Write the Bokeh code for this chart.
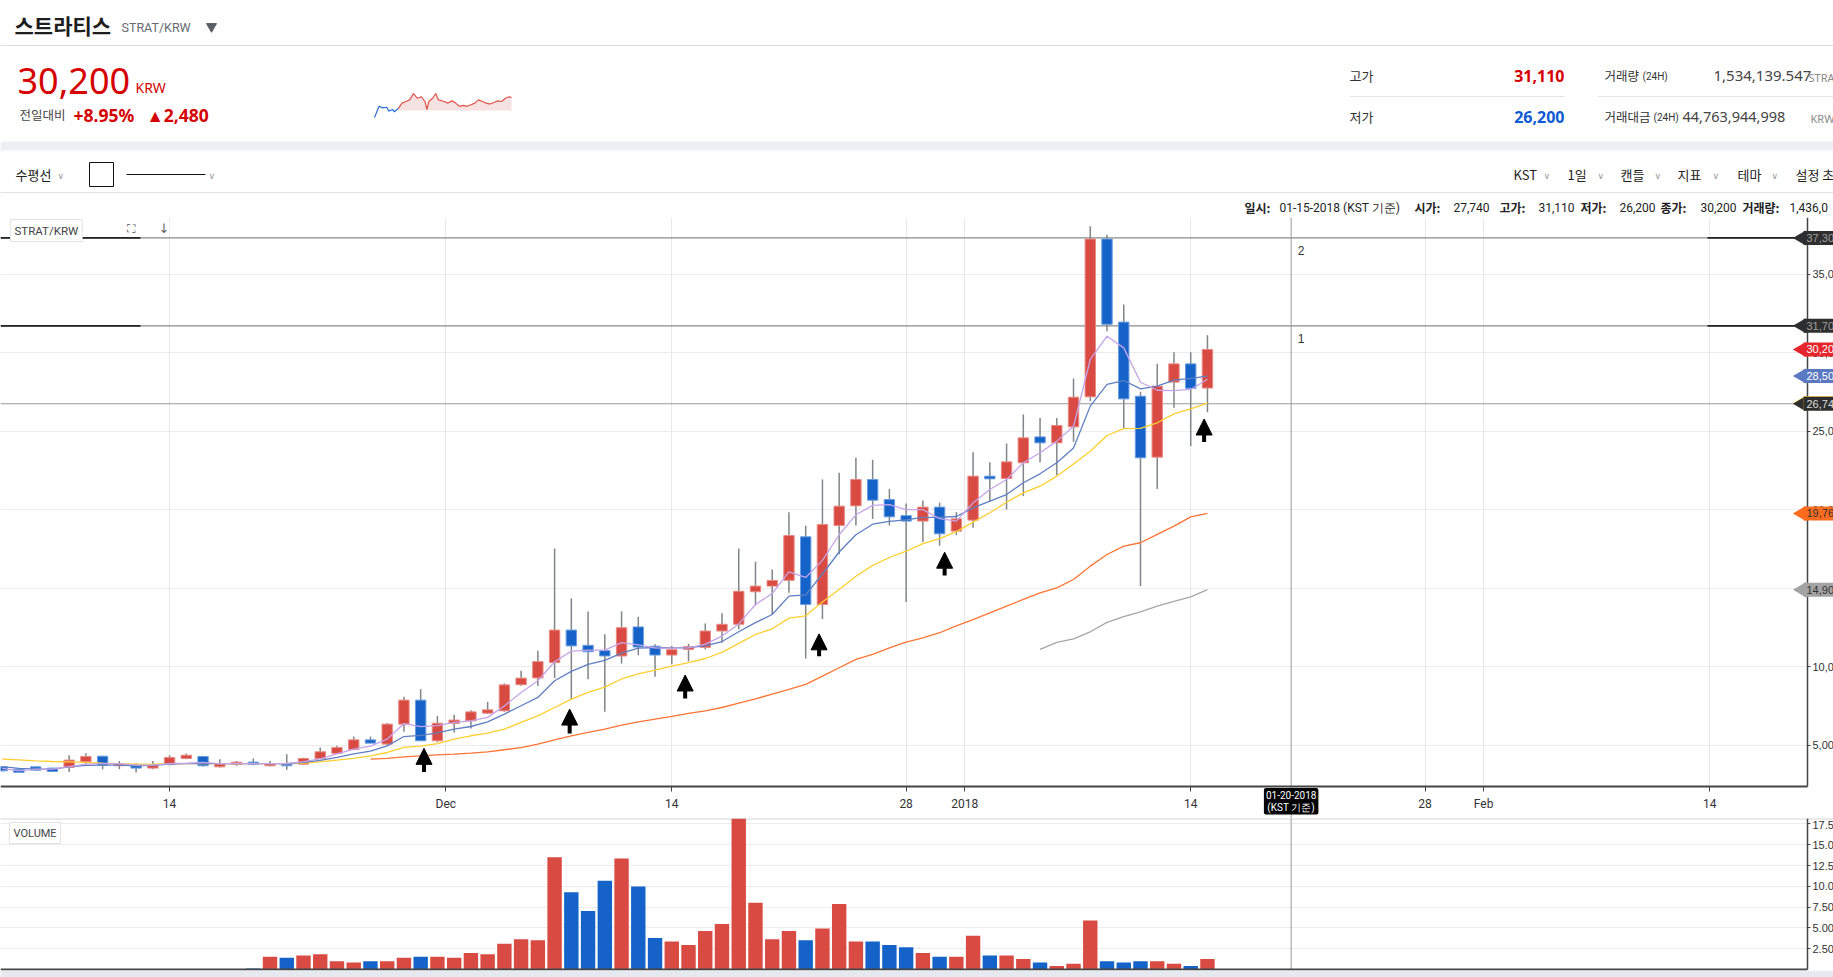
import math
from bokeh.plotting import figure
from bokeh.layouts import column
from bokeh.models import (ColumnDataSource, Range1d, FixedTicker, Label,
                          Arrow, NormalHead, NumeralTickFormatter)
from bokeh.core.properties import value
from bokeh.embed import file_html
from bokeh.resources import INLINE

# ================= DATA =================
coin_name = "스트라티스"
pair_name = "STRAT/KRW"
first_day = 3          # day index of first candle, 0 = 2017-11-01
opens = [3620, 3470, 3620, 3540, 3580, 3940, 4300, 3690, 3730, 3540,
         3770, 4150, 4280, 3620, 3770, 3920, 3690, 3810, 3790, 4150,
         4480, 4720, 5340, 5070, 6340, 7870, 5280, 6380, 6550, 7040,
         7190, 8850, 9280, 10260, 12330, 11360, 11020, 10680, 12530, 11300,
         10740, 11100, 11230, 12270, 12700, 14770, 15130, 15500, 18270, 13960,
         18990, 20240, 21920, 20640, 19620, 19270, 20160, 18630, 19330, 22130,
         21980, 22980, 24630, 24250, 25270, 27180, 37230, 31940, 27220, 23340,
         28120, 29280, 27740]
highs = [3680, 3500, 3650, 3560, 4360, 4490, 4320, 4000, 3850, 4000,
         4360, 4470, 4320, 4110, 4000, 4150, 4000, 4430, 4210, 4850,
         4960, 5550, 5550, 6420, 8080, 8570, 6870, 6940, 7230, 7760,
         8930, 9740, 11020, 17520, 14350, 13520, 12060, 13520, 13180, 11420,
         11320, 11460, 12750, 13400, 17520, 16680, 16190, 19840, 18970, 21920,
         22340, 23300, 23170, 21320, 20390, 20580, 20450, 19840, 23660, 23020,
         24210, 26060, 25840, 25840, 28350, 38050, 37500, 33060, 27500, 29280,
         30020, 30020, 31110]
lows = [3330, 3230, 3400, 3300, 3300, 3790, 3470, 3470, 3260, 3470,
        3730, 4110, 3640, 3580, 3690, 3730, 3640, 3430, 3770, 4110,
        4440, 4680, 5130, 5000, 5850, 5280, 5210, 5810, 6060, 6980,
        7130, 8780, 8770, 9280, 7890, 9200, 7130, 10190, 10720, 9350,
        10150, 10340, 11100, 11530, 12380, 13900, 13320, 14700, 10520, 13030,
        17160, 18990, 19410, 18990, 14110, 17930, 17700, 18370, 18840, 20480,
        20010, 20860, 23020, 22190, 24320, 26900, 31350, 25170, 15130, 21320,
        26480, 24040, 26200]
closes = [3370, 3260, 3410, 3320, 4050, 4280, 3730, 3830, 3540, 3730,
          4220, 4360, 3690, 3810, 3920, 3770, 3830, 3690, 4150, 4580,
          4850, 5340, 5130, 6340, 7870, 5280, 6400, 6600, 7120, 7250,
          8840, 9270, 10320, 12330, 11320, 10950, 10680, 12480, 11250, 10740,
          11080, 11270, 12270, 12700, 14800, 15130, 15490, 18350, 13960, 19050,
          20220, 21920, 20600, 19540, 19270, 20160, 18460, 19410, 22130, 21960,
          23040, 24570, 24250, 25360, 27160, 37230, 31800, 27050, 23300, 27860,
          29280, 27720, 30200]
volume_m = [0, 0, 0, 0, 0, 0, 0, 0, 0, 0, 0, 0, 0, 0, 0,
            0.12, 1.54, 1.40, 1.69, 1.83, 0.98, 0.84, 0.98, 0.98, 1.40,
            1.54, 1.54, 1.40, 1.97, 1.83, 3.09, 3.65, 3.51, 13.48, 9.27,
            7.02, 10.67, 13.34, 9.97, 3.79, 3.37, 2.95, 4.63, 5.48, 19.5,
            8.01, 3.65, 4.63, 3.51, 4.92, 7.87, 3.37, 3.37, 2.95, 2.67,
            1.97, 1.54, 1.54, 4.07, 1.69, 1.69, 1.26, 0.84, 0.42, 0.70,
            5.90, 0.98, 0.84, 0.98, 0.98, 0.70, 0.42, 1.26]
ma5 = [3520, 3370, 3470, 3470, 3640, 3790, 3830, 3830, 3730, 3730,
       3830, 3850, 3900, 3830, 3830, 3830, 3830, 3830, 3950, 4130,
       4440, 4750, 4940, 5380, 6380, 6180, 6240, 6450, 6550, 6770,
       7500, 8350, 9100, 10310, 10990, 11050, 11050, 11530, 11390, 11190,
       11180, 11200, 11440, 11950, 12720, 13960, 14660, 16030, 15680, 16770,
       18400, 19670, 20270, 20320, 20000, 20000, 19420, 19270, 20430, 21280,
       21920, 22980, 23620, 24360, 25310, 29560, 31040, 30300, 28110, 27600,
       27580, 27650, 28300]
ma10 = [3640, 3520, 3470, 3470, 3620, 3710, 3730, 3730, 3690, 3720,
        3790, 3830, 3830, 3830, 3830, 3830, 3830, 3830, 3900, 4030,
        4220, 4450, 4620, 4960, 5550, 5620, 5790, 6020, 6190, 6490,
        6980, 7510, 8040, 9100, 9700, 10150, 10400, 10860, 11180, 11220,
        11200, 11210, 11320, 11600, 12220, 12800, 13320, 14490, 14570, 15900,
        17300, 18400, 19070, 19250, 19350, 19500, 19500, 19560, 20110, 20540,
        20960, 21710, 22280, 22980, 23930, 26590, 27970, 28220, 27690, 27860,
        28240, 28350, 28500]
ma20 = [4110, 4070, 4000, 3960, 3940, 3900, 3850, 3830, 3790, 3790,
        3830, 3830, 3830, 3830, 3830, 3830, 3830, 3830, 3855, 3940,
        4045, 4165, 4320, 4535, 4855, 4940, 5100, 5385, 5600, 5770,
        6020, 6450, 6870, 7400, 7930, 8360, 8700, 9215, 9535, 9780,
        10040, 10255, 10520, 10910, 11480, 12050, 12410, 13090, 13240, 14120,
        14910, 15760, 16450, 16950, 17350, 17830, 18150, 18600, 19200, 19800,
        20470, 21070, 21490, 22130, 22910, 23720, 24720, 25160, 25170, 25530,
        26100, 26420, 26780]
ma60_first_day = 25
ma60 = [4110, 4160, 4260, 4320, 4380, 4430, 4490, 4580, 4710, 4850,
        5070, 5340, 5600, 5810, 6020, 6280, 6490, 6660, 6830, 7020,
        7190, 7400, 7680, 7950, 8250, 8550, 8870, 9400, 9930, 10460,
        10780, 11200, 11560, 11840, 12160, 12600, 13000, 13430, 13850, 14280,
        14700, 15020, 15550, 16400, 17140, 17670, 17890, 18420, 18950, 19540,
        19760]
ma120_first_day = 65
ma120 = [11100, 11550, 11770, 12220, 12820, 13190, 13490, 13860, 14160, 14450, 14900]

x_tick_days = [13, 29.5, 43, 57, 60.5, 74, 88, 91.5, 105]
x_tick_labels = ["14", "Dec", "14", "28", "2018", "14", "28", "Feb", "14"]
price_ticks = [5000, 10000, 15000, 20000, 25000, 30000, 35000]
vol_ticks = [2.5e6, 5e6, 7.5e6, 10e6, 12.5e6, 15e6, 17.5e6]
vol_tick_labels = ["2.50M", "5.00M", "7.50M", "10.00M", "12.50M", "15.00M", "17.50M"]

hline_prices = [37300, 31700]
hline_names = ["2", "1"]
cross_day = 80
cross_price = 26740
cross_date = "01-20-2018\n(KST 기준)"
last_date = "01-15-2018 (KST 기준)"

arrow_days = [28.2, 36.9, 43.8, 51.8, 59.3, 74.8]
arrow_tips = [4800, 7300, 9470, 12090, 17290, 25770]
arrow_tails = [3300, 5750, 7970, 10670, 15800, 24300]

vol_24h = "1,534,139.547"
amount_24h = "44,763,944,998"
info_volume = "1,436,0"

spark_t = [978, 990, 1000, 1010, 1015, 1025, 1030, 1040, 1050, 1060, 1070, 1080, 1090,
           1100, 1110, 1115, 1120, 1130, 1138, 1145, 1160, 1170, 1180, 1190, 1200,
           1210, 1220, 1230, 1240, 1250, 1260, 1270, 1280, 1290, 1300, 1310, 1320,
           1330, 1336]
spark_v = [0, 35, 30, 32, 20, 25, 18, 28, 45, 50, 55, 75, 60,
           65, 50, 25, 50, 60, 75, 55, 50, 45, 52, 45, 35,
           38, 35, 40, 45, 55, 50, 45, 42, 47, 52, 50, 60,
           65, 62]
spark_split = 7

# ================= STYLE / LAYOUT =================
W, H_HDR, H_MAIN, H_VOL = 1833, 215, 603, 159
RED, BLUE = "#d94b42", "#1563c9"
RED_EDGE, BLUE_EDGE = "#e98a84", "#6b9de0"
WICK = "#7f8588"
KR = "Noto Sans CJK KR"
PX_PER_DAY = 16.74


def T(fig, x, y, s, size, color, font=KR, style="normal", align="left", baseline="middle"):
    fig.text(x=[x], y=[y], text=[s], text_font=value(font), text_font_size=value(f"{size}px"),
             text_color=color, text_font_style=style, text_align=align, text_baseline=baseline)


# ---------------- header ----------------
hdr = figure(width=W, height=H_HDR, x_range=Range1d(0, W), y_range=Range1d(H_HDR, 0),
             toolbar_location=None, output_backend="svg", x_axis_type=None, y_axis_type=None,
             min_border=0)
hdr.outline_line_color = None
hdr.grid.visible = False

T(hdr, 14, 24, coin_name, 21, "#1e1e1e", style="bold")
T(hdr, 121, 27, pair_name, 12.5, "#666a70", font="Roboto")
hdr.scatter([211], [26], marker="inverted_triangle", size=10, color="#5b5e66")
hdr.segment([0], [45], [W], [45], line_color="#dcdcdc", line_width=1)

chg = closes[-1] - closes[-2]
pct = chg / closes[-2] * 100
T(hdr, 17, 80, f"{closes[-1]:,}", 36, "#d60000", font="Noto Sans")
T(hdr, 135, 87, "KRW", 14, "#d60000", font="Noto Sans")
T(hdr, 19, 114, "전일대비", 12.5, "#444444")
T(hdr, 73, 114, f"+{pct:.2f}%", 17.5, "#d60000", font="Noto Sans", style="bold")
T(hdr, 146, 114, f"▲{chg:,}", 17.5, "#d60000", font="Noto Sans", style="bold")

# sparkline
sx0, sx1, sy_top, sy_bot = 374, 511, 93, 117
t0, t1 = min(spark_t), max(spark_t)
v0, v1 = min(spark_v), max(spark_v)
kx = (t1 - t0) / (sx1 - sx0)
ky = (v1 - v0) / (sy_bot - sy_top)
hdr.extra_x_ranges = {"st": Range1d(t0 - sx0 * kx, t1 + (W - sx1) * kx)}
hdr.extra_y_ranges = {"sv": Range1d(v0 - (H_HDR - sy_bot) * ky, v1 + sy_top * ky)}
red_t = spark_t[spark_split:]
red_v = spark_v[spark_split:]
hdr.varea(x=red_t, y1=[22] * len(red_t), y2=red_v, x_range_name="st", y_range_name="sv",
          fill_color="#f7e2e2")
hdr.line(spark_t[:spark_split + 1], spark_v[:spark_split + 1], x_range_name="st",
         y_range_name="sv", line_color="#2d6fd8", line_width=1.2)
hdr.line(red_t, red_v, x_range_name="st", y_range_name="sv", line_color="#e0544a", line_width=1.2)

# right stats block
T(hdr, 1349, 75, "고가", 13, "#333333")
T(hdr, 1564, 75, f"{highs[-1]:,}", 16, "#d60000", font="Noto Sans", style="bold", align="right")
hdr.segment([1349, 1597], [96, 96], [1564, W], [96, 96], line_color="#e4e4e4", line_width=1)
T(hdr, 1349, 116, "저가", 13, "#333333")
T(hdr, 1564, 116, f"{lows[-1]:,}", 16, "#0d5ad4", font="Noto Sans", style="bold", align="right")
T(hdr, 1604, 75, "거래량", 12.5, "#333333")
T(hdr, 1642, 76, "(24H)", 10, "#333333", font="Roboto")
T(hdr, 1713, 75, vol_24h, 15, "#444444", font="Noto Sans")
T(hdr, 1808, 77, "STRAT", 11, "#8a8a8a", font="Noto Sans")
T(hdr, 1604, 116, "거래대금", 12.5, "#333333")
T(hdr, 1653, 117, "(24H)", 10, "#333333", font="Roboto")
T(hdr, 1682, 116, amount_24h, 14.5, "#444444", font="Noto Sans")
T(hdr, 1810, 118, "KRW", 11, "#8a8a8a", font="Noto Sans")

hdr.quad(left=[0], right=[W], top=[141], bottom=[150], fill_color="#eceff4", line_color=None)

# toolbar row
T(hdr, 15, 174, "수평선", 13, "#222222")
T(hdr, 57, 175, "∨", 9, "#9a9a9a", font="DejaVu Sans")
hdr.quad(left=[89], right=[113], top=[162], bottom=[186], fill_color=None, line_color="#111111",
         line_width=1)
hdr.segment([126], [174], [205], [174], line_color="#111111", line_width=1.2)
T(hdr, 208, 175, "∨", 9, "#9a9a9a", font="DejaVu Sans")
for label, lx, cx in [("KST", 1513, 1543), ("1일", 1567, 1597), ("캔들", 1620, 1654),
                      ("지표", 1677, 1712), ("테마", 1737, 1771)]:
    T(hdr, lx, 174, label, 13, "#222222")
    T(hdr, cx, 175, "∨", 9, "#9a9a9a", font="DejaVu Sans")
T(hdr, 1795, 174, "설정 초기화", 13, "#222222")
hdr.segment([0], [192], [W], [192], line_color="#e2e2e2", line_width=1)

# info line
info = [("일시:", 1244, True), (last_date, 1279, False),
        ("시가:", 1414, True), (f"{opens[-1]:,}", 1453, False),
        ("고가:", 1499, True), (f"{highs[-1]:,}", 1538, False),
        ("저가:", 1580, True), (f"{lows[-1]:,}", 1619, False),
        ("종가:", 1660, True), (f"{closes[-1]:,}", 1700, False),
        ("거래량:", 1742, True), (info_volume, 1789, False)]
for s, ix, bold in info:
    T(hdr, ix, 207, s, 12, "#222222", font=KR if bold else "Roboto",
      style="bold" if bold else "normal")

# ---------------- main price chart ----------------
n = len(opens)
days = list(range(first_day, first_day + n))
up = [c >= o for o, c in zip(opens, closes)]
src = ColumnDataSource(dict(
    day=days, open=opens, high=highs, low=lows, close=closes,
    top=[max(o, c) for o, c in zip(opens, closes)],
    bottom=[min(o, c) for o, c in zip(opens, closes)],
    color=[RED if u else BLUE for u in up],
    edge=[RED_EDGE if u else BLUE_EDGE for u in up],
    vol=[v * 1e6 for v in volume_m],
))

X0 = 2.9
X1 = X0 + W / PX_PER_DAY          # right edge of the window
AX = X0 + 1807 / PX_PER_DAY       # where the price axis sits
Y_AX = 2400                        # price at the time axis line
Y_BOT = 332
Y_TOP = 38600

p = figure(width=W, height=H_MAIN, x_range=Range1d(X0, X1), y_range=Range1d(Y_BOT, Y_TOP),
           toolbar_location=None, output_backend="svg", y_axis_location="right",
           min_border_left=0, min_border_top=2, min_border_bottom=0, min_border_right=0)
p.outline_line_color = None
p.xaxis.fixed_location = Y_AX
p.xaxis.bounds = (X0, AX)
p.xaxis.ticker = FixedTicker(ticks=x_tick_days)
p.xaxis.major_label_overrides = dict(zip(x_tick_days, x_tick_labels))
p.xaxis.major_label_text_font = "Roboto"
p.xaxis.major_label_text_font_size = "12px"
p.xaxis.major_label_text_color = "#333333"
p.xaxis.axis_line_color = "#444444"
p.xaxis.axis_line_width = 2
p.xaxis.major_tick_line_color = "#444444"
p.xaxis.major_tick_out = 5
p.xaxis.major_tick_in = 0
p.xaxis.minor_tick_line_color = None
p.xaxis.major_label_standoff = 6
p.yaxis.fixed_location = AX
p.yaxis.bounds = (Y_AX, Y_TOP)
p.yaxis.ticker = FixedTicker(ticks=price_ticks)
p.yaxis.formatter = NumeralTickFormatter(format="0,0")
p.yaxis.major_label_text_font = "Liberation Sans"
p.yaxis.major_label_text_font_size = "11px"
p.yaxis.major_label_text_color = "#333333"
p.yaxis.axis_line_color = "#444444"
p.yaxis.axis_line_width = 1.5
p.yaxis.major_tick_line_color = "#444444"
p.yaxis.major_tick_out = 3
p.yaxis.major_tick_in = 0
p.yaxis.minor_tick_line_color = None
p.yaxis.major_label_standoff = 2
p.xgrid.ticker = p.xaxis.ticker
p.ygrid.ticker = p.yaxis.ticker
p.xgrid.grid_line_color = "#e8e8e8"
p.ygrid.grid_line_color = "#ececec"

# blank bands under the time axis and right of the price axis
p.quad(left=[X0], right=[X1], bottom=[Y_BOT], top=[Y_AX], fill_color="white", line_color=None)
p.quad(left=[AX], right=[X1], bottom=[Y_BOT], top=[Y_TOP], fill_color="white", line_color=None)

# user horizontal lines and crosshair
p.segment(x0=[X0] * 2, y0=hline_prices, x1=[AX] * 2, y1=hline_prices,
          line_color="#8a8a8a", line_width=1.2)
p.segment(x0=[X0] * 2, y0=hline_prices, x1=[X0 + 140 / PX_PER_DAY] * 2, y1=hline_prices,
          line_color="#222222", line_width=1.6)
p.segment(x0=[X0 + 1707 / PX_PER_DAY] * 2, y0=hline_prices, x1=[AX] * 2, y1=hline_prices,
          line_color="#222222", line_width=1.6)
p.text(x=[cross_day + 0.4] * 2, y=hline_prices, text=hline_names, text_baseline="top",
       y_offset=8, text_font=value("Liberation Sans"), text_font_size=value("12px"),
       text_color="#333333")
p.segment(x0=[cross_day], y0=[Y_BOT], x1=[cross_day], y1=[Y_TOP], line_color="#9a9a9a",
          line_width=1)
p.segment(x0=[X0], y0=[cross_price], x1=[AX], y1=[cross_price], line_color="#9a9a9a",
          line_width=1)

# candles
p.segment(x0="day", y0="high", x1="day", y1="low", source=src, line_color=WICK, line_width=1.5)
p.vbar(x="day", width=0.62, top="top", bottom="bottom", fill_color="color", line_color="edge",
       line_width=1, source=src)

# moving averages
p.line(list(range(ma120_first_day, ma120_first_day + len(ma120))), ma120,
       line_color="#a6a6a6", line_width=1.3)
p.line(list(range(ma60_first_day, ma60_first_day + len(ma60))), ma60,
       line_color="#ff7433", line_width=1.3)
p.line(days, ma20, line_color="#ffcf2e", line_width=1.3)
p.line(days, ma10, line_color="#5f7fc2", line_width=1.3)
p.line(days, ma5, line_color="#c6a4ea", line_width=1.3)

# arrows
arr_src = ColumnDataSource(dict(x=arrow_days, y0=arrow_tails, y1=arrow_tips))
p.add_layout(Arrow(end=NormalHead(size=16, fill_color="black", line_color="black"),
                   x_start="x", y_start="y0", x_end="x", y_end="y1", source=arr_src,
                   line_width=4, line_color="black"))

# tabs / icons
p.add_layout(Label(x=X0 + 10 / PX_PER_DAY, y=Y_TOP, y_offset=-2, text=pair_name,
                   text_baseline="top", text_font="Roboto", text_font_size="11.5px",
                   text_color="#444444", background_fill_color="white",
                   border_line_color="#e2e2e2", padding=4))
p.add_layout(Label(x=X0 + 126 / PX_PER_DAY, y=Y_TOP, y_offset=-4, text="⛶", text_baseline="top",
                   text_font="DejaVu Sans", text_font_size="12px", text_color="#555555",
                   background_fill_color="white"))
p.add_layout(Label(x=X0 + 158 / PX_PER_DAY, y=Y_TOP, y_offset=-3, text="↓", text_baseline="top",
                   text_font="DejaVu Sans", text_font_size="13px", text_color="#666666",
                   background_fill_color="white"))

# price tags on the price axis
tags = [(hline_prices[0], "#2e2e2e", "#a0a0a0"),
        (hline_prices[1], "#2e2e2e", "#a0a0a0"),
        (closes[-1], "#e5262d", "white"),
        (ma10[-1], "#5b79c2", "white"),
        (ma20[-1], "#ffcf2e", "#333333"),
        (cross_price, "#2e2e2e", "#dddddd"),
        (ma60[-1], "#ff6c1f", "#333333"),
        (ma120[-1], "#a3a3a3", "#333333")]
p.scatter(x=[AX - 6 / PX_PER_DAY] * len(tags), y=[t[0] for t in tags], marker="triangle",
          angle=math.pi / 2, size=15, fill_color=[t[1] for t in tags], line_color=None)
for tv, bg, tc in tags:
    p.add_layout(Label(x=AX, y=tv, x_offset=-4, text=f"{tv:,}", text_baseline="middle",
                       text_align="left", text_font="Liberation Sans", text_font_size="11px",
                       text_color=tc, background_fill_color=bg, padding=3))

# crosshair date box
p.add_layout(Label(x=cross_day, y=Y_AX, y_offset=-2, text=cross_date, text_align="center",
                   text_baseline="top", text_font="Roboto", text_font_size="10px",
                   text_line_height=1.05, text_color="white", background_fill_color="black",
                   padding=2, border_radius=2))

# ---------------- volume ----------------
V_PX = 2.5e6 / 20.8                 # volume per pixel
VTOP = 151 * V_PX
v = figure(width=W, height=H_VOL, x_range=p.x_range, y_range=Range1d(-1 * V_PX, VTOP),
           toolbar_location=None, output_backend="svg", y_axis_location="right",
           min_border_left=0, min_border_top=0, min_border_bottom=7, min_border_right=0)
v.outline_line_color = None
v.border_fill_color = "#e6e9ef"
v.xaxis.visible = False
v.xgrid.visible = False
v.yaxis.fixed_location = AX
v.yaxis.bounds = (0, VTOP)
v.yaxis.ticker = FixedTicker(ticks=vol_ticks)
v.yaxis.major_label_overrides = dict(zip(vol_ticks, vol_tick_labels))
v.yaxis.major_label_text_font = "Liberation Sans"
v.yaxis.major_label_text_font_size = "11px"
v.yaxis.major_label_text_color = "#333333"
v.yaxis.axis_line_color = "#444444"
v.yaxis.axis_line_width = 1.5
v.yaxis.major_tick_line_color = "#444444"
v.yaxis.major_tick_out = 3
v.yaxis.major_tick_in = 0
v.yaxis.minor_tick_line_color = None
v.yaxis.major_label_standoff = 2
v.ygrid.ticker = v.yaxis.ticker
v.ygrid.grid_line_color = "#ececec"

v.quad(left=[AX], right=[X1], bottom=[-1 * V_PX], top=[VTOP], fill_color="white", line_color=None)
v.segment(x0=[X0], y0=[VTOP], x1=[X1], y1=[VTOP], line_color="#d6d6d6", line_width=2)
v.segment(x0=[cross_day], y0=[0], x1=[cross_day], y1=[VTOP], line_color="#9a9a9a", line_width=1)
v.vbar(x="day", width=0.86, top="vol", bottom=0, fill_color="color", line_color=None, source=src)
v.segment(x0=[X0], y0=[0], x1=[AX], y1=[0], line_color="#444444", line_width=2)
v.add_layout(Label(x=X0 + 9 / PX_PER_DAY, y=VTOP, y_offset=-4, text="VOLUME", text_baseline="top",
                   text_font="Roboto", text_font_size="11px", text_color="#444444",
                   background_fill_color="white", border_line_color="#e2e2e2", padding=4))

layout = column(hdr, p, v, spacing=0)
open("out.html", "w").write(file_html(layout, INLINE))
